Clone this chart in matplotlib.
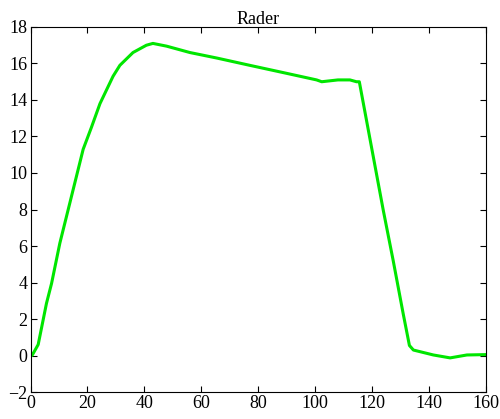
import matplotlib
matplotlib.use('Agg')
import matplotlib.pyplot as plt

# values
t = [0, 0.5, 0.9, 2.7, 5.6, 7.4, 10.3, 13.2, 18.5, 21.4, 24.4, 29.0, 31.4,
     36.0, 40.7, 43.0, 47.8, 56.0, 65.4, 77.0, 88.8, 100.5, 102.3, 108.0,
     112.2, 114.5, 115.5, 123.9, 127.4, 130.9, 133.1, 134.5, 141.5, 147.4,
     153.3, 160.0]
signal = [0.1, 0.0, 0.1, 0.6, 2.85, 3.95, 6.15, 7.97, 11.3, 12.5, 13.8, 15.3,
          15.9, 16.6, 17.0, 17.1, 16.95, 16.6, 16.3, 15.9, 15.5, 15.1, 15.0,
          15.1, 15.1, 15.0, 15.0, 7.97, 5.2, 2.3, 0.55, 0.3, 0.03, -0.13,
          0.03, 0.05]

x_ticks = [0, 20, 40, 60, 80, 100, 120, 140, 160]
y_ticks = [-2, 0, 2, 4, 6, 8, 10, 12, 14, 16, 18]

plt.rcParams['font.family'] = ['Liberation Serif', 'DejaVu Serif']

fig = plt.figure(figsize=(5.0, 4.19), dpi=100)
ax = fig.add_axes([0.061, 0.0644, 0.911, 0.8712])

ax.plot(t, signal, color='#00e600', lw=2.2, solid_joinstyle='round')

ax.set_xlim(0, 160)
ax.set_ylim(-2, 18)
ax.set_xticks(x_ticks)
ax.set_yticks(y_ticks)
ax.tick_params(direction='in', length=4, width=0.8, labelsize=13,
               top=True, right=True, pad=2)
for s in ax.spines.values():
    s.set_linewidth(0.8)
ax.set_title('Rader', fontsize=13, pad=2)

fig.savefig('out.png', dpi=100)
